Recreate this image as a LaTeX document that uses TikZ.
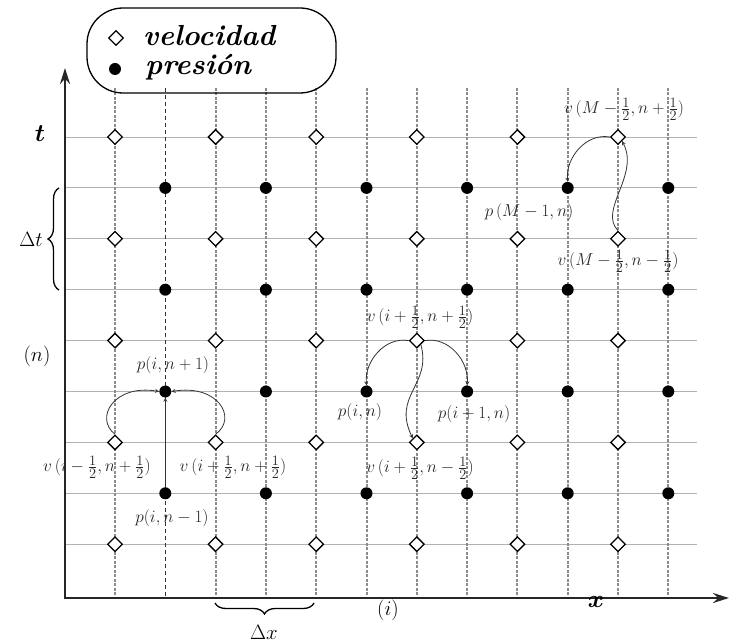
\documentclass[tikz,border=0pt]{standalone}
\usepackage{amsmath,amssymb}
\usetikzlibrary{shapes.geometric,decorations.pathreplacing,arrows.meta}

\tikzset{
  vel/.style={diamond,draw,fill=white,line width=1.3pt,inner sep=0pt,minimum size=15pt},
  pres/.style={circle,fill=black,inner sep=0pt,minimum size=12pt},
  lbl/.style={font=\fontsize{19}{21}\selectfont,text=black!85,inner sep=1pt},
  big/.style={font=\fontsize{21}{23}\selectfont,inner sep=0pt},
  legtxt/.style={font=\fontsize{29}{31}\selectfont\bfseries\itshape,inner sep=0pt},
  gridh/.style={gray!60,line width=0.9pt},
  gridv/.style={black!45,line width=2pt,dash pattern=on 3pt off 1.5pt},
  flow/.style={->,>=stealth,line width=0.8pt,black!80},
}

\begin{document}
\begin{tikzpicture}[x=1pt,y=-1pt]
  \useasboundingbox (0,0) rectangle (733,644);
  % malla
  \foreach \j in {0,...,8} {
      \draw[gridh] (65,137+50.9*\j) -- (697,137+50.9*\j);
    }
  \foreach \k in {0,2,3,4,5,6,7,8,9,10,11} {
      \draw[gridv] (115+50.3*\k,88) -- (115+50.3*\k,598);
    }
  \draw[black!80,line width=0.8pt,dash pattern=on 4pt off 3pt] (165.3,88) -- (165.3,598);
  \foreach \k in {0,2,...,10} {
      \foreach \j in {0,2,...,8} {
          \node[vel] (v-\k-\j) at (115+50.3*\k,137+50.9*\j) {};
        }
    }
  \foreach \k in {1,3,...,11} {
      \foreach \j in {1,3,5,7} {
          \node[pres] (p-\k-\j) at (115+50.3*\k,137+50.9*\j) {};
        }
    }
  % ejes
  \coordinate (o) at (65,598);
  \coordinate (tend) at (65,68);
  \coordinate (xend) at (729,598);
  \draw[line width=2.4pt,black!85,{Stealth[length=16pt,width=10pt]}-{Stealth[length=16pt,width=10pt]}] (tend) -- (o) -- (xend);
  \node[font=\fontsize{36}{38}\selectfont] (tlab) at (40,134) {$\boldsymbol{t}$};
  \node[font=\fontsize{36}{38}\selectfont] (xlab) at (596,602) {$\boldsymbol{x}$};
  \node[big] (nlab) at (37,356) {$(n)$};
  \node[big] (ilab) at (388,610) {$(i)$};
  \draw[line width=1.3pt,decorate,decoration={brace,amplitude=11pt}] (59,290) -- (59,188);
  \node[big] (dtlab) at (31,239) {$\Delta t$};
  \draw[line width=1.3pt,decorate,decoration={brace,amplitude=11pt}] (314,603) -- (215,603);
  \node[big] (dxlab) at (264,632) {$\Delta x$};
  % leyenda
  \draw[line width=1.3pt,rounded corners=36pt] (87,8) rectangle (336,93);
  \node[vel] (legv) at (116,38) {};
  \node[pres] (legp) at (115,69) {};
  \node[legtxt,anchor=base west] (legvt) at (143,46) {velocidad};
  \node[legtxt,anchor=base west] (legpt) at (145,75) {presión};
  % p(i,n+1)
  \node[lbl] (a1) at (173,365) {$p(i,n+1)$};
  \node[lbl] (a2) at (97,467) {$v\,(i-\frac{1}{2},n+\frac{1}{2})$};
  \node[lbl] (a3) at (233,467) {$v\,(i+\frac{1}{2},n+\frac{1}{2})$};
  \node[lbl] (a4) at (172,518) {$p(i,n-1)$};
  \draw[flow] (v-0-6.north) .. controls (94,418) and (114,384) .. (p-1-5.west);
  \draw[flow] (v-2-6.north) .. controls (238,418) and (218,384) .. (p-1-5.east);
  \draw[flow] (p-1-7.north) -- (p-1-5.south);
  % v(i+1/2,n+1/2)
  \node[lbl] (b1) at (420,317) {$v\,(i+\frac{1}{2},n+\frac{1}{2})$};
  \node[lbl] (b2) at (360,412) {$p(i,n)$};
  \node[lbl] (b3) at (474,414) {$p(i+1,n)$};
  \node[lbl] (b4) at (420,468) {$v\,(i+\frac{1}{2},n-\frac{1}{2})$};
  \draw[flow] (v-6-4.west) to[out=170,in=95] (p-5-5.north);
  \draw[flow] (v-6-4.east) to[out=10,in=85] (p-7-5.north);
  \draw[flow] (v-6-4.south east) .. controls (432,385) and (392,395) .. (v-6-6.north west);
  % v(M-1/2,n+1/2)
  \node[lbl] (c1) at (624,109) {$v\,(M-\frac{1}{2},n+\frac{1}{2})$};
  \node[lbl] (c2) at (529,212) {$p\,(M-1,n)$};
  \node[lbl] (c3) at (618,261) {$v\,(M-\frac{1}{2},n-\frac{1}{2})$};
  \draw[flow] (v-10-0.west) to[out=170,in=95] (p-9-1.north);
  \draw[flow] (v-10-2.north) .. controls (598,210) and (640,175) .. (v-10-0.south east);
\end{tikzpicture}
\end{document}
